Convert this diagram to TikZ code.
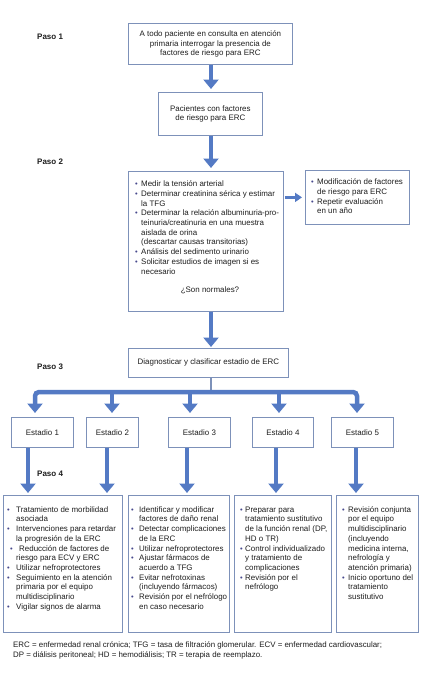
\documentclass[tikz,border=0pt]{standalone}
\usepackage{fontspec}
\setmainfont{Liberation Sans}
\usetikzlibrary{arrows.meta,calc}
\definecolor{arrc}{RGB}{84,122,196}
\definecolor{boxc}{RGB}{125,145,185}
\definecolor{bulc}{RGB}{70,72,140}
\definecolor{txtc}{RGB}{30,30,30}
\newcommand{\bl}[1]{\makebox[#1][l]{\textcolor{bulc}{\fontsize{7.5}{7}\selectfont\textbullet}}}
\newcommand{\ind}[1]{\hspace*{#1}}
\newcommand{\fst}{\rule{0pt}{6pt}}
\tikzset{
  every node/.style={font=\fontsize{7.95}{9.7}\selectfont, text=txtc},
  box/.style={draw=boxc, line width=0.8pt, inner sep=0pt, anchor=north west, align=center},
  lst/.style={inner sep=0pt, anchor=north west, align=left},
  paso/.style={inner sep=0pt, anchor=west, font=\fontsize{8}{9}\selectfont\bfseries},
  bigarrow/.style={draw=arrc, line width=4.5pt, -{Triangle[width=15pt,length=9.5pt]}},
  smallarrow/.style={draw=arrc, line width=2.8pt, -{Triangle[width=9pt,length=7pt]}},
  thinline/.style={draw=boxc, line width=1.3pt}
}
\begin{document}
\begin{tikzpicture}[x=1pt,y=-1pt]
\useasboundingbox[fill=white] (0,0) rectangle (421,688);

% Paso labels
\node[paso] (p1) at (37,37) {Paso 1};
\node[paso] (p2) at (37,162) {Paso 2};
\node[paso] (p3) at (37,367) {Paso 3};
\node[paso] (p4) at (37,474) {Paso 4};

% Step 1
\node[box, minimum width=164pt, minimum height=41pt] (b1) at (128,23)
  {A todo paciente en consulta en atención\\primaria interrogar la presencia de\\factores de riesgo para ERC};
\node[box, minimum width=104pt, minimum height=43pt] (b2) at (158,92)
  {Pacientes con factores\\de riesgo para ERC};

% Step 2
\node[box, minimum width=155pt, minimum height=140pt] (b3) at (128,171) {};
\node[lst] (t3) at (135,180.5) {\fst\bl{6pt}Medir la tensión arterial\\
\bl{6pt}Determinar creatinina sérica y estimar\\
\ind{6pt}la TFG\\
\bl{6pt}Determinar la relación albuminuria-pro-\\
\ind{6pt}teinuria/creatinuria en una muestra\\
\ind{6pt}aislada de orina\\
\ind{6pt}(descartar causas transitorias)\\
\bl{6pt}Análisis del sedimento urinario\\
\bl{6pt}Solicitar estudios de imagen si es\\
\ind{6pt}necesario};
\node[inner sep=0pt] (q3) at (210,290) {¿Son normales?};

\node[box, minimum width=104pt, minimum height=54pt] (bR) at (305,170) {};
\node[lst] (tR) at (311,178.5) {\fst\bl{6pt}Modificación de factores\\
\ind{6pt}de riesgo para ERC\\
\bl{6pt}Repetir evaluación\\
\ind{6pt}en un año};

% Step 3
\node[box, minimum width=160pt, minimum height=29pt] (b4) at (128,348)
  {Diagnosticar y clasificar estadio de ERC};

\node[box, minimum width=62pt, minimum height=30pt] (e1) at (11,417) {Estadio 1};
\node[box, minimum width=52pt, minimum height=30pt] (e2) at (86,417) {Estadio 2};
\node[box, minimum width=62pt, minimum height=30pt] (e3) at (168,417) {Estadio 3};
\node[box, minimum width=61pt, minimum height=30pt] (e4) at (252,417) {Estadio 4};
\node[box, minimum width=62pt, minimum height=30pt] (e5) at (331,417) {Estadio 5};

% Step 4
\node[box, minimum width=119pt, minimum height=137pt] (c1) at (3,495) {};
\node[box, minimum width=101pt, minimum height=137pt] (c2) at (128,495) {};
\node[box, minimum width=97pt, minimum height=137pt] (c3) at (234,495) {};
\node[box, minimum width=82pt, minimum height=137pt] (c4) at (336,495) {};

\node[lst] (tc1) at (7,506) {\fst\bl{9pt}Tratamiento de morbilidad\\
\ind{9pt}asociada\\
\bl{9pt}Intervenciones para retardar\\
\ind{9pt}la progresión de la ERC\\
\ind{3pt}\bl{9pt}Reducción de factores de\\
\ind{9pt}riesgo para ECV y ERC\\
\bl{9pt}Utilizar nefroprotectores\\
\bl{9pt}Seguimiento en la atención\\
\ind{9pt}primaria por el equipo\\
\ind{9pt}multidisciplinario\\
\bl{9pt}Vigilar signos de alarma};

\node[lst] (tc2) at (131,506) {\fst\bl{8pt}Identificar y modificar\\
\ind{8pt}factores de daño renal\\
\bl{8pt}Detectar complicaciones\\
\ind{8pt}de la ERC\\
\bl{8pt}Utilizar nefroprotectores\\
\bl{8pt}Ajustar fármacos de\\
\ind{8pt}acuerdo a TFG\\
\bl{8pt}Evitar nefrotoxinas\\
\ind{8pt}(incluyendo fármacos)\\
\bl{8pt}Revisión por el nefrólogo\\
\ind{8pt}en caso necesario};

\node[lst] (tc3) at (240,506) {\fst\bl{5pt}Preparar para\\
\ind{5pt}tratamiento sustitutivo\\
\ind{5pt}de la función renal (DP,\\
\ind{5pt}HD o TR)\\
\bl{5pt}Control individualizado\\
\ind{5pt}y tratamiento de\\
\ind{5pt}complicaciones\\
\bl{5pt}Revisión por el\\
\ind{5pt}nefrólogo};

\node[lst] (tc4) at (342,506) {\fst\bl{6pt}Revisión conjunta\\
\ind{6pt}por el equipo\\
\ind{6pt}multidisciplinario\\
\ind{6pt}(incluyendo\\
\ind{6pt}medicina interna,\\
\ind{6pt}nefrología y\\
\ind{6pt}atención primaria)\\
\bl{6pt}Inicio oportuno del\\
\ind{6pt}tratamiento\\
\ind{6pt}sustitutivo};

% Footnote
\node[lst, font=\fontsize{7.9}{10.6}\selectfont] (fn) at (13,641) {\fst ERC = enfermedad renal crónica; TFG = tasa de filtración glomerular. ECV = enfermedad cardiovascular;\\
DP = diálisis peritoneal; HD = hemodiálisis; TR = terapia de reemplazo.};

% Connectors
\coordinate (mx) at (211,0);
\draw[bigarrow, shorten >=3pt] (b1.south -| mx) -- (b2.north -| mx);
\draw[bigarrow, shorten >=3pt] (b2.south -| mx) -- (b3.north -| mx);
\draw[smallarrow, shorten <=1pt, shorten >=3pt] (b3.east |- bR.west) -- (bR.west);
\draw[bigarrow, shorten >=1pt] (b3.south -| mx) -- (b4.north -| mx);

\coordinate (tc) at (211,392);
\coordinate (t1) at (35,392);
\coordinate (t2) at (112,392);
\coordinate (t3) at (190,392);
\coordinate (t4) at (279,392);
\coordinate (t5) at (357,392);
\draw[thinline] (b4.south -| tc) -- (tc);
\draw[draw=arrc, line width=4.5pt, {Triangle[width=15pt,length=9.5pt]}-{Triangle[width=15pt,length=9.5pt]}, rounded corners=4pt, shorten <=4pt, shorten >=4pt]
  (e1.north -| t1) -- (t1) -- (t5) -- (e5.north -| t5);
\draw[bigarrow, shorten >=4pt] (t2) -- (e2.north -| t2);
\draw[bigarrow, shorten >=4pt] (t3) -- (e3.north -| t3);
\draw[bigarrow, shorten >=4pt] (t4) -- (e4.north -| t4);

\coordinate (a1) at (28,0);
\coordinate (a2) at (107,0);
\coordinate (a3) at (187,0);
\coordinate (a4) at (276,0);
\coordinate (a5) at (356,0);
\draw[bigarrow, shorten >=2pt] (e1.south -| a1) -- (c1.north -| a1);
\draw[bigarrow, shorten >=2pt] (e2.south -| a2) -- (c1.north -| a2);
\draw[bigarrow, shorten >=2pt] (e3.south -| a3) -- (c2.north -| a3);
\draw[bigarrow, shorten >=2pt] (e4.south -| a4) -- (c3.north -| a4);
\draw[bigarrow, shorten >=2pt] (e5.south -| a5) -- (c4.north -| a5);
\end{tikzpicture}
\end{document}
